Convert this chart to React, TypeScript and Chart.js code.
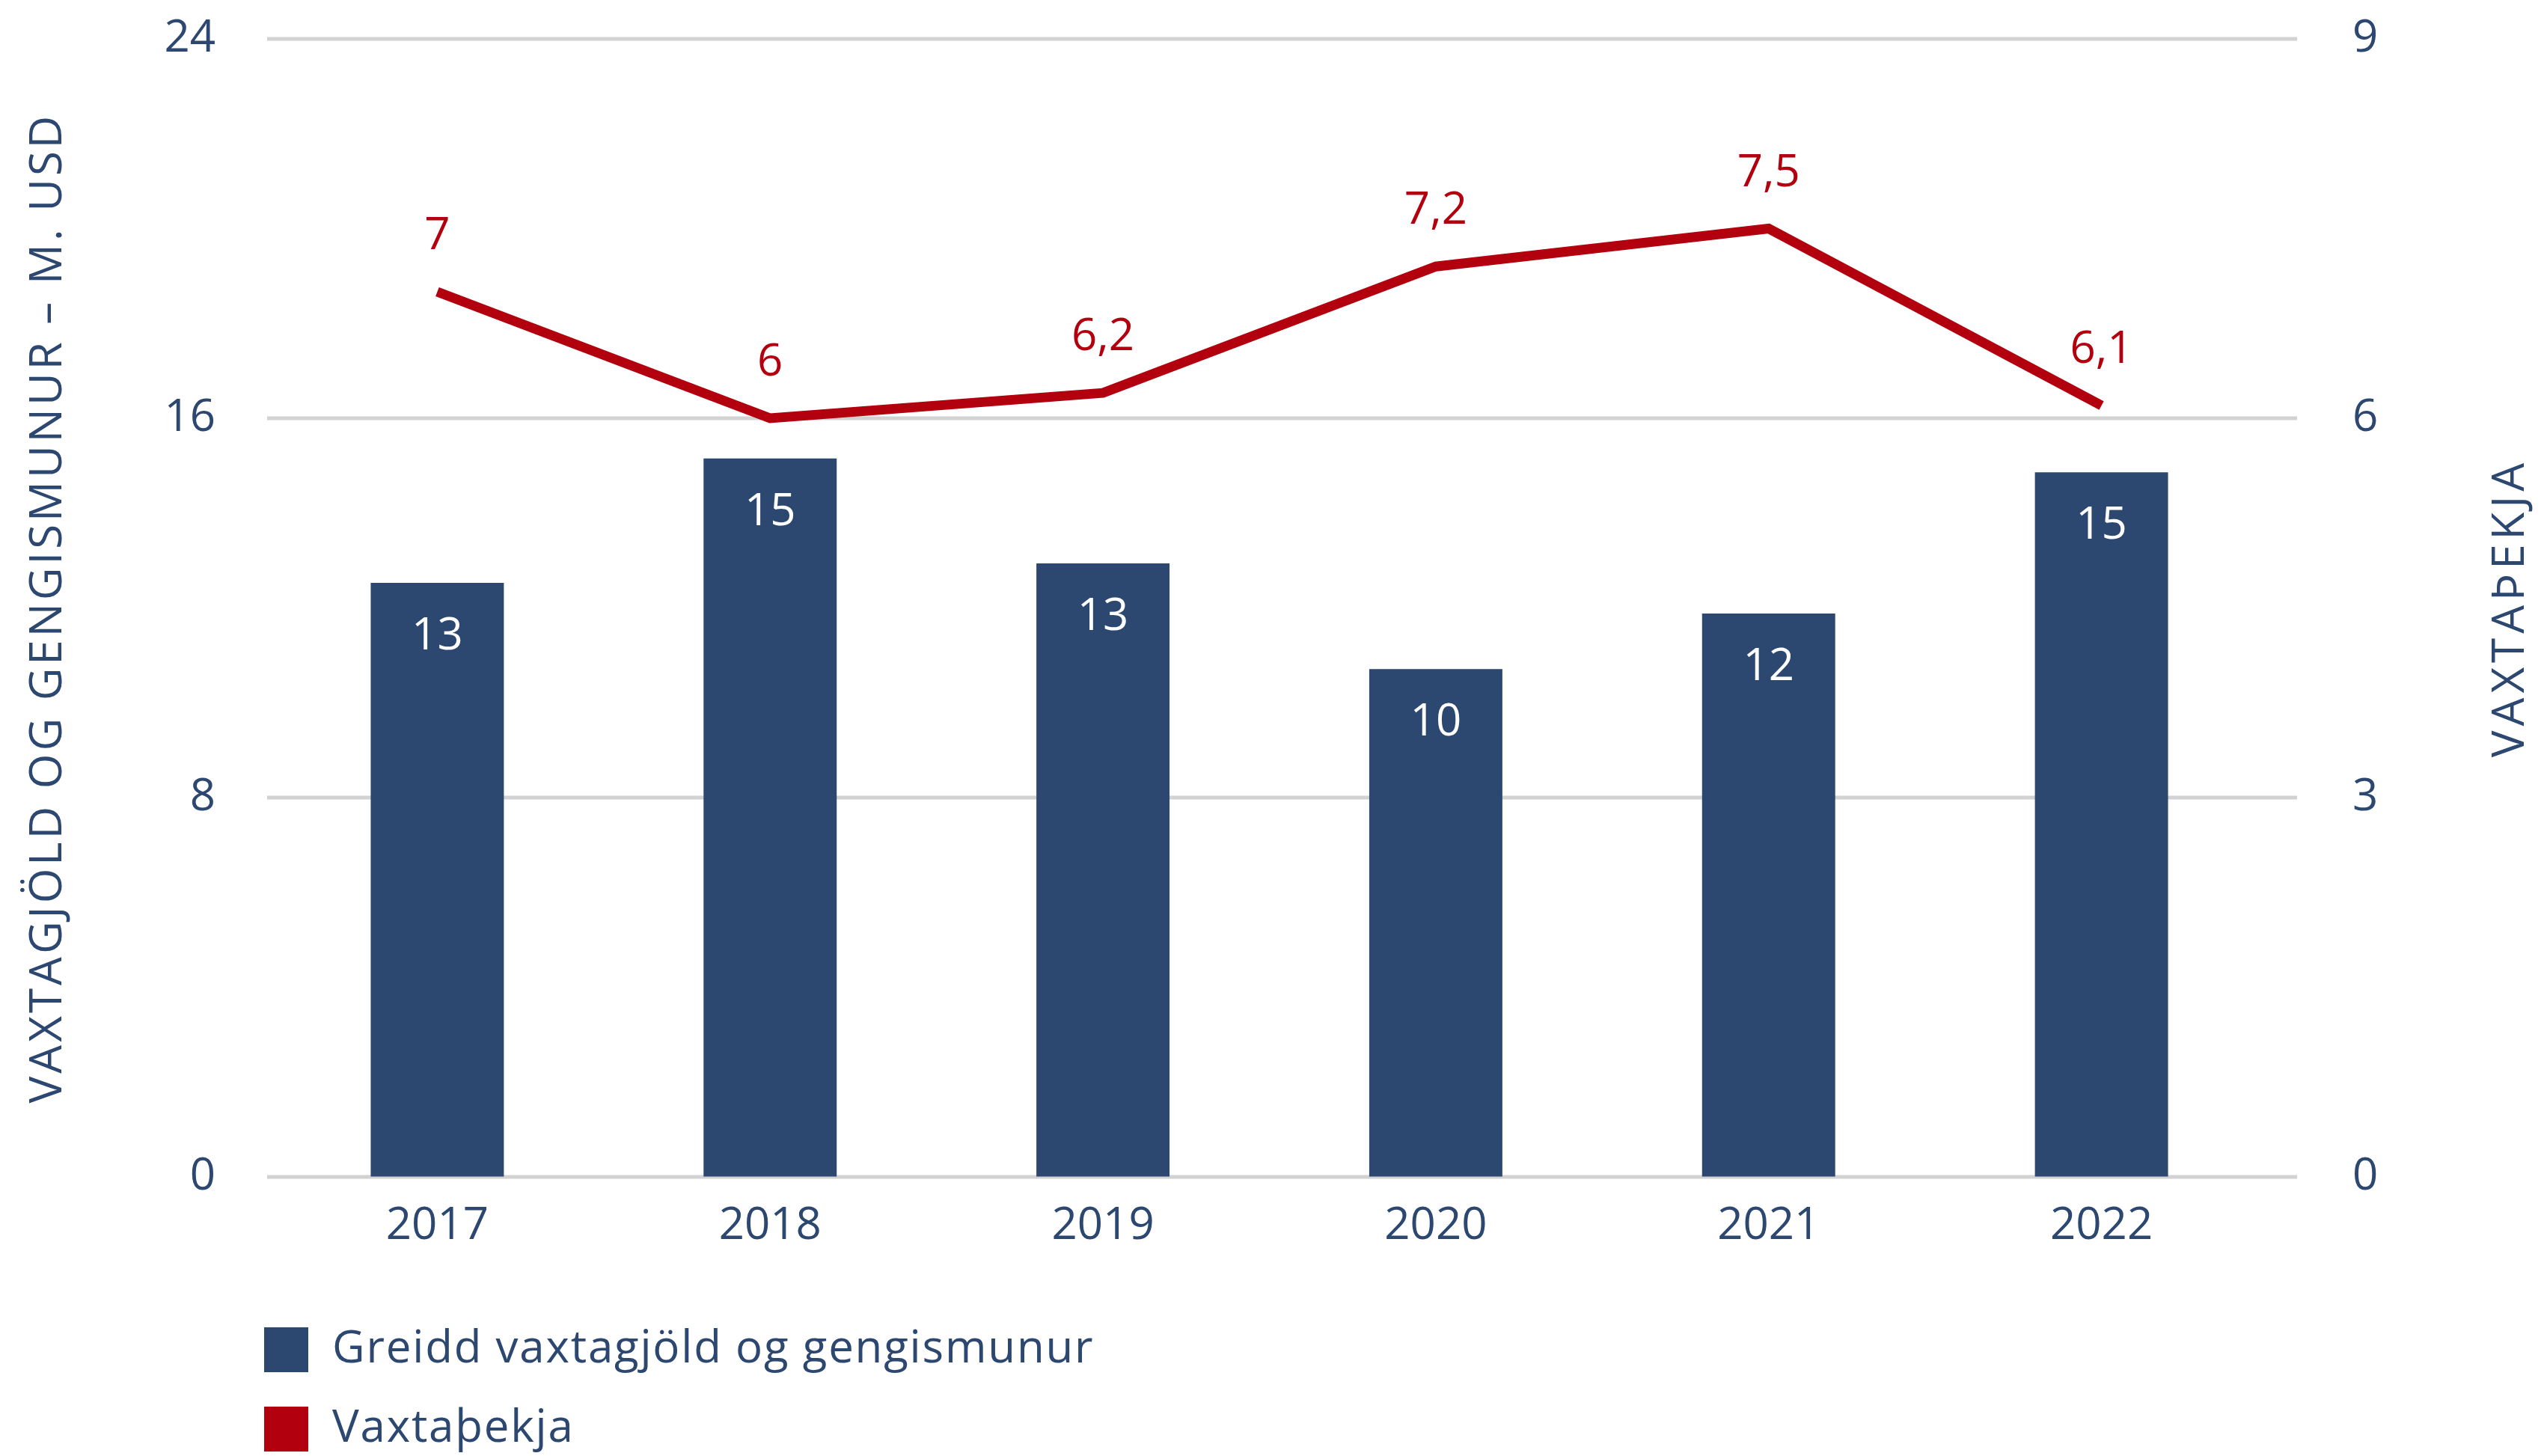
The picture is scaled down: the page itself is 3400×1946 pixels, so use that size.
import React, { useEffect, useRef } from "react";
import { Chart, registerables } from "chart.js";

Chart.register(...registerables);

const years = ["2017", "2018", "2019", "2020", "2021", "2022"];
const paidValues = [12.53, 15.15, 12.94, 10.71, 11.88, 14.86];
const paidLabels = ["13", "15", "13", "10", "12", "15"];
const coverValues = [7, 6, 6.2, 7.2, 7.5, 6.1];
const leftTickStep = 8;
const leftMax = 24;
const rightTickStep = 3;
const rightMax = 9;
const seriesNames = ["Greidd vaxtagjöld og gengismunur", "Vaxtaþekja"];
const leftTitle = "VAXTAGJÖLD OG GENGISMUNUR – M. USD";
const rightTitle = "VAXTAÞEKJA";

const NAVY = "#2c4770";
const RED = "#b3000e";
const GRID = "#d2d2d2";
const FONT = "'Open Sans', sans-serif";
const FS = 60;

const gridPlugin = {
  id: "customGrid",
  beforeDatasetsDraw(chart: any) {
    const { ctx, chartArea } = chart;
    const ys = chart.scales.y;
    ctx.save();
    ctx.strokeStyle = GRID;
    ctx.lineWidth = 5;
    for (const t of ys.ticks) {
      const y = ys.getPixelForValue(t.value);
      ctx.beginPath();
      ctx.moveTo(chartArea.left - 5, y);
      ctx.lineTo(chartArea.right + 39, y);
      ctx.stroke();
    }
    ctx.restore();
  },
};

const labelPlugin = {
  id: "customLabels",
  afterDatasetsDraw(chart: any) {
    const { ctx } = chart;
    ctx.save();
    ctx.font = `${FS}px ${FONT}`;
    ctx.textAlign = "center";
    ctx.textBaseline = "middle";
    chart.data.datasets.forEach((ds: any, di: number) => {
      const meta = chart.getDatasetMeta(di);
      meta.data.forEach((el: any, i: number) => {
        if (ds.type === "bar") {
          ctx.fillStyle = "#ffffff";
          ctx.fillText(paidLabels[i], el.x, el.y + 72);
        } else {
          ctx.fillStyle = RED;
          ctx.fillText(String(ds.data[i]).replace(".", ","), el.x, el.y - 74);
        }
      });
    });
    ctx.restore();
  },
};

const titlesLegendPlugin = {
  id: "titlesLegend",
  afterDraw(chart: any) {
    const { ctx, chartArea } = chart;
    const cy = (chartArea.top + chartArea.bottom) / 2;
    ctx.save();
    ctx.font = `${FS}px ${FONT}`;
    ctx.fillStyle = NAVY;
    ctx.textAlign = "center";
    ctx.textBaseline = "middle";
    ctx.save();
    ctx.translate(65, cy);
    ctx.rotate(-Math.PI / 2);
    (ctx as any).letterSpacing = "4px";
    ctx.fillText(leftTitle, 0, 0);
    ctx.restore();
    ctx.save();
    ctx.translate(3356, cy);
    ctx.rotate(-Math.PI / 2);
    (ctx as any).letterSpacing = "6px";
    ctx.fillText(rightTitle, 0, 0);
    ctx.restore();

    // legend
    const colors = [NAVY, RED];
    const rowsY = [1804, 1910];
    ctx.textAlign = "left";
    (ctx as any).letterSpacing = "1.8px";
    seriesNames.forEach((name, i) => {
      ctx.fillStyle = colors[i];
      ctx.fillRect(353, rowsY[i] - 30, 59, 60);
      ctx.fillStyle = NAVY;
      ctx.fillText(name, 444, rowsY[i]);
    });
    ctx.restore();
  },
};

export default function App() {
  const ref = useRef<HTMLCanvasElement | null>(null);
  useEffect(() => {
    if (!ref.current) return;
    const chart = new Chart(ref.current, {
      type: "bar",
      data: {
        labels: years,
        datasets: [
          {
            type: "line",
            label: seriesNames[1],
            data: coverValues,
            yAxisID: "y1",
            borderColor: RED,
            backgroundColor: RED,
            borderWidth: 13,
            pointRadius: 0,
            tension: 0,
            borderCapStyle: "butt",
            borderJoinStyle: "miter",
            order: 0,
          } as any,
          {
            type: "bar",
            label: seriesNames[0],
            data: paidValues,
            yAxisID: "y",
            backgroundColor: NAVY,
            barPercentage: 0.4,
            categoryPercentage: 1,
            order: 1,
          } as any,
        ],
      },
      options: {
        responsive: false,
        devicePixelRatio: 1,
        animation: false,
        layout: { padding: { top: 52, left: 0, right: 0, bottom: 0 } },
        plugins: {
          legend: { display: false },
          tooltip: { enabled: false },
        },
        scales: {
          x: {
            grid: { display: false, drawTicks: false },
            border: { display: false },
            ticks: { color: NAVY, font: { family: FONT, size: FS }, padding: 30 },
            afterFit: (s: any) => {
              s.height = 373;
            },
          },
          y: {
            position: "left",
            min: 0,
            max: leftMax,
            grid: { display: true, color: "rgba(0,0,0,0)", drawTicks: true, tickLength: 60 },
            border: { display: false },
            ticks: { stepSize: leftTickStep, color: NAVY, font: { family: FONT, size: FS }, padding: 14 },
            afterFit: (s: any) => {
              s.width = 362;
            },
          },
          y1: {
            position: "right",
            min: 0,
            max: rightMax,
            grid: { display: true, color: "rgba(0,0,0,0)", drawTicks: true, tickLength: 100, drawOnChartArea: false },
            border: { display: false },
            ticks: { stepSize: rightTickStep, color: NAVY, font: { family: FONT, size: FS }, padding: 13 },
            afterFit: (s: any) => {
              s.width = 369;
            },
          },
        },
      } as any,
      plugins: [gridPlugin, labelPlugin, titlesLegendPlugin],
    });
    return () => chart.destroy();
  }, []);
  return (
    <canvas
      ref={ref}
      width={3400}
      height={1946}
      style={{ position: "absolute", left: 0, top: 0, display: "block", background: "#ffffff" }}
    />
  );
}
